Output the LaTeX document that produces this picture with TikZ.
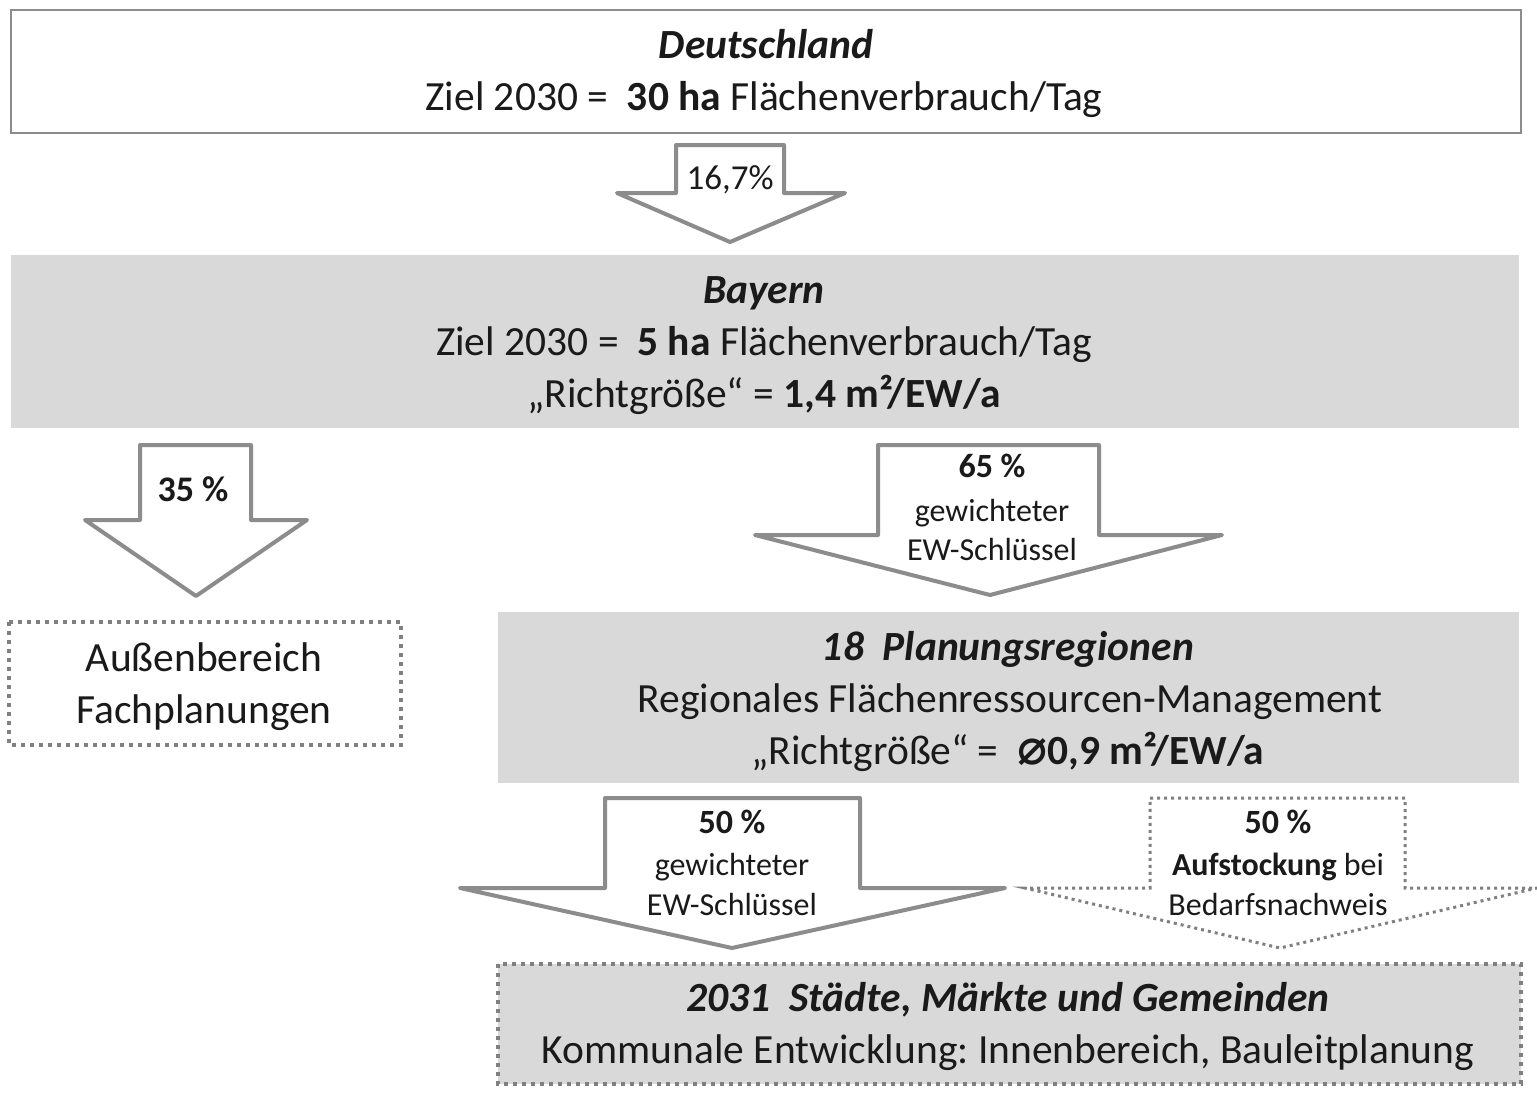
\documentclass[tikz,border=0pt]{standalone}
\usepackage{fontspec}
\setmainfont{Carlito}
\newfontfamily\symfont{DejaVu Sans}
\definecolor{boxgray}{HTML}{D9D9D9}
\definecolor{arrgray}{HTML}{8C8C8C}
\definecolor{txtcol}{HTML}{1A1A1A}
\definecolor{dotgray}{HTML}{808080}
\frenchspacing
\tikzset{
  bigarrow/.style={draw=arrgray, line width=4pt, fill=white, line join=round},
  dotarrow/.style={draw=dotgray, line width=3pt, dash pattern=on 3pt off 4pt, fill=white},
  graybox/.style={fill=boxgray},
  dotbox/.style={draw=dotgray, line width=4pt, dash pattern=on 4pt off 5pt},
  maintxt/.style={anchor=base, inner sep=0pt, text=txtcol, font=\fontsize{41.5}{50}\selectfont},
  arrtxt/.style={anchor=base, inner sep=0pt, text=txtcol, font=\fontsize{32}{38}\selectfont},
  pcttxt/.style={anchor=base, inner sep=0pt, text=txtcol, font=\fontsize{34}{40}\selectfont\bfseries},
}
\begin{document}
\begin{tikzpicture}[x=1pt, y=-1pt]
\useasboundingbox (0,0) rectangle (1537,1103);
\fill[white] (0,0) rectangle (1537,1103);

% Deutschland box
\draw[draw=arrgray, line width=1.5pt, fill=white] (11,10) rectangle (1521,133);
\node[maintxt] (de1) at (766,58) {\textbf{\textit{Deutschland}}};
\node[maintxt] (de2) at (764,110) {Ziel 2030 =\ \ \textbf{30 ha} Flächenverbrauch/Tag};

% arrow 16,7%
\draw[bigarrow] (676,145) -- (784,145) -- (784,193) -- (845,193) -- (730,242) -- (617,193) -- (676,193) -- cycle;
\node[anchor=base, inner sep=0pt, text=txtcol, font=\fontsize{35}{40}\selectfont] (p167) at (730,189) {16,7\%};

% Bayern box
\fill[graybox] (11,255) rectangle (1519,428);
\node[maintxt] (by1) at (764,303) {\textbf{\textit{Bayern}}};
\node[maintxt] (by2) at (764,355) {Ziel 2030 =\ \ \textbf{5 ha} Flächenverbrauch/Tag};
\node[maintxt] (by3) at (764,407) {„Richtgröße“ = \textbf{1,4 m²/EW/a}};

% arrow 35 %
\draw[bigarrow] (140,445) -- (251,445) -- (251,520) -- (307,520) -- (196,596) -- (85,520) -- (140,520) -- cycle;
\node[pcttxt, font=\fontsize{36}{40}\selectfont\bfseries] (p35) at (193,501) {35 \%};

% Aussenbereich box
\draw[dotbox] (9,622) rectangle (401,745);
\node[maintxt] (ab1) at (204,671) {Außenbereich};
\node[maintxt] (ab2) at (204,723) {Fachplanungen};

% arrow 65 %
\draw[bigarrow] (878,445) -- (1099,445) -- (1099,535) -- (1222,535) -- (990,595) -- (755,535) -- (878,535) -- cycle;
\node[pcttxt] (p65a) at (992,477) {65 \%};
\node[arrtxt] (p65b) at (992,521) {gewichteter};
\node[arrtxt] (p65c) at (992,560) {EW-Schlüssel};

% Planungsregionen box
\fill[graybox] (498,612) rectangle (1519,783);
\node[maintxt] (pr1) at (1008,660) {\textbf{\textit{18\ \ Planungsregionen}}};
\node[maintxt] (pr2) at (1010,712) {Regionales Flächenressourcen-Management};
\node[maintxt] (pr3) at (1008,764) {„Richtgröße“ =\ \ {\symfont\bfseries\fontsize{50}{50}\selectfont ⌀}\textbf{0,9 m²/EW/a}};

% arrow 50 % left
\draw[bigarrow] (605,798) -- (860,798) -- (860,888) -- (1005,888) -- (732,948) -- (460,888) -- (605,888) -- cycle;
\node[pcttxt] (p50a) at (732,833) {50 \%};
\node[arrtxt] (p50b) at (732,875) {gewichteter};
\node[arrtxt] (p50c) at (732,915) {EW-Schlüssel};

% arrow 50 % right (dotted)
\draw[dotarrow] (1150,798) -- (1405,798) -- (1405,888) -- (1537,888) -- (1280,948) -- (1025,888) -- (1150,888) -- cycle;
\node[pcttxt] (p50d) at (1278,833) {50 \%};
\node[arrtxt] (p50e) at (1278,875) {\textbf{Aufstockung} bei};
\node[arrtxt] (p50f) at (1278,915) {Bedarfsnachweis};

% Gemeinden box
\draw[dotbox, fill=boxgray] (498,964) rectangle (1521,1084);
\node[maintxt] (gm1) at (1008,1011) {\textbf{\textit{2031\ \ Städte, Märkte und Gemeinden}}};
\node[maintxt] (gm2) at (1008,1063) {Kommunale Entwicklung: Innenbereich, Bauleitplanung};
\end{tikzpicture}
\end{document}
